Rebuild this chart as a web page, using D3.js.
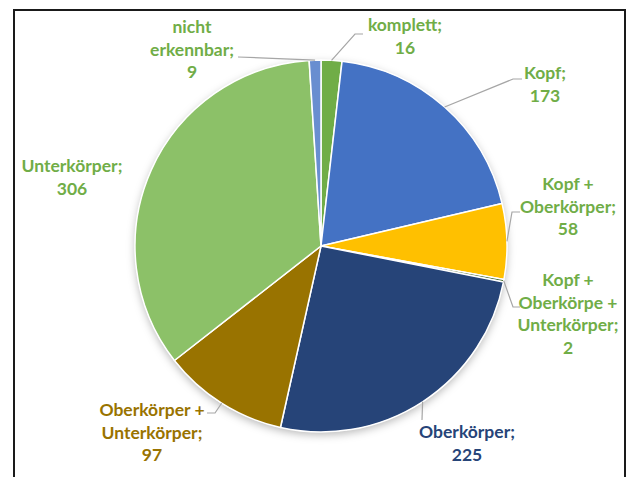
<!DOCTYPE html>
<html>
<head>
<meta charset="utf-8">
<script src="https://cdn.jsdelivr.net/npm/d3@7"></script>
<style>
  html, body { margin: 0; padding: 0; background: #fff; }
  svg { display: block; }
  .lbl { font-family: Lato, "Open Sans", sans-serif; font-weight: 700; font-size: 17.5px; }
</style>
</head>
<body>
<svg id="chart" width="627" height="477"></svg>
<script>
// Körperteile, im Uhrzeigersinn ab 12 Uhr
const categories = [
  "komplett",
  "Kopf",
  "Kopf + Oberkörper",
  "Kopf + Oberkörpe + Unterkörper",
  "Oberkörper",
  "Oberkörper + Unterkörper",
  "Unterkörper",
  "nicht erkennbar"
];
const counts = [16, 173, 58, 2, 225, 97, 306, 9];

// Beschriftungszeilen je Segment (Name; Wert)
const labelLines = [
  ["komplett;"],
  ["Kopf;"],
  ["Kopf +", "Oberkörper;"],
  ["Kopf +", "Oberkörpe +", "Unterkörper;"],
  ["Oberkörper;"],
  ["Oberkörper +", "Unterkörper;"],
  ["Unterkörper;"],
  ["nicht", "erkennbar;"]
];

const sliceColors = ["#70AD47", "#4472C4", "#FFC000", "#43682B", "#264478", "#997300", "#8CC168", "#698ED0"];
const labelColors = ["#70AD47", "#70AD47", "#70AD47", "#70AD47", "#264478", "#997300", "#70AD47", "#70AD47"];

// Layout: Mittelpunkt der Beschriftung (x, y der ersten Zeile) und Führungslinie
const layout = {
  cx: 321, cy: 246, r: 186, lineH: 22.5,
  labels: [
    { x: 405, y: 25, leader: [[363, 34], [355, 34]] },
    { x: 545, y: 73, leader: [[522, 79], [513, 79]] },
    { x: 568, y: 184, leader: [[520, 212], [512, 212]] },
    { x: 568, y: 280, leader: [[520, 307], [513, 307]] },
    { x: 467, y: 432, leader: [[422, 420]] },
    { x: 152, y: 410, leader: [[207, 413], [215, 413]] },
    { x: 72, y: 166, leader: null },
    { x: 192, y: 27, leader: [[238, 57]] }
  ]
};

const svg = d3.select("#chart");
const data = categories.map((c, i) => ({ name: c, value: counts[i], i }));

// Schatten unter dem Kreis
const defs = svg.append("defs");
const f = defs.append("filter").attr("id", "shadow")
  .attr("x", "-20%").attr("y", "-20%").attr("width", "140%").attr("height", "140%");
f.append("feDropShadow").attr("dx", 0).attr("dy", 3).attr("stdDeviation", 4)
  .attr("flood-color", "#000").attr("flood-opacity", 0.28);

// Rahmen
svg.append("rect").attr("x", 14).attr("y", 10).attr("width", 611).attr("height", 480)
  .attr("fill", "#fff").attr("stroke", "#1a1a1a").attr("stroke-width", 2);

const pie = d3.pie().value(d => d.value).sort(null);
const arcs = pie(data);
const arc = d3.arc().innerRadius(0).outerRadius(layout.r);

const g = svg.append("g").attr("transform", `translate(${layout.cx},${layout.cy})`);
g.append("circle").attr("r", layout.r).attr("fill", "#fff").attr("filter", "url(#shadow)");
g.selectAll("path.slice").data(arcs).join("path")
  .attr("class", "slice")
  .attr("d", arc)
  .attr("fill", d => sliceColors[d.data.i])
  .attr("stroke", "#fff")
  .attr("stroke-width", 1.5)
  .attr("stroke-linejoin", "round");

// Führungslinien zum Segmentmittelpunkt am Rand
arcs.forEach(a => {
  const L = layout.labels[a.data.i];
  if (!L.leader) return;
  const mid = (a.startAngle + a.endAngle) / 2;
  const edge = [layout.cx + layout.r * Math.sin(mid), layout.cy - layout.r * Math.cos(mid)];
  const pts = L.leader.concat([edge]);
  svg.append("path")
    .attr("d", d3.line()(pts))
    .attr("fill", "none")
    .attr("stroke", "#A6A6A6")
    .attr("stroke-width", 1.2);
});

// Beschriftungen
arcs.forEach(a => {
  const i = a.data.i;
  const L = layout.labels[i];
  const lines = labelLines[i].concat([String(a.data.value)]);
  const t = svg.append("text").attr("class", "lbl")
    .attr("text-anchor", "middle")
    .attr("fill", labelColors[i]);
  lines.forEach((s, k) => {
    t.append("tspan").attr("x", L.x).attr("y", L.y + k * layout.lineH)
      .attr("dy", "0.35em").text(s);
  });
});
</script>
</body>
</html>
